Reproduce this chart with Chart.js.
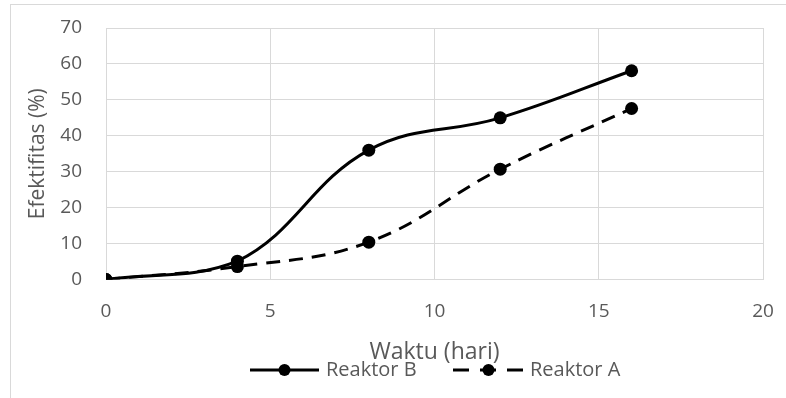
<!DOCTYPE html>
<html>
<head>
<meta charset="utf-8">
<script src="https://cdn.jsdelivr.net/npm/chart.js@4.4.1/dist/chart.umd.min.js"></script>
<style>
html, body { margin: 0; padding: 0; background: #fff; }
#wrap { position: relative; width: 786px; height: 398px; overflow: hidden; }
#frame { position: absolute; left: 10px; top: 4px; width: 800px; height: 420px; border: 1px solid #d9d9d9; }
#chart { position: absolute; left: 0; top: 0; }
</style>
</head>
<body>
<div id="wrap">
  <div id="frame"></div>
  <canvas id="chart" width="786" height="398"></canvas>
</div>
<script>
const timeDays = [0, 4, 8, 12, 16];
const reaktorB = [0, 5.1, 36, 45, 58.1];
const reaktorA = [0, 3.6, 10.4, 30.7, 47.6];
const seriesNames = ['Reaktor B', 'Reaktor A'];

const textColor = '#595959';
const gridColor = '#d9d9d9';
const fontFamily = '"Open Sans", "Liberation Sans", sans-serif';

function toPoints(values) {
    return timeDays.map((x, i) => ({ x: x, y: values[i] }));
}

// legend drawn like Excel: line sample with marker in the middle
const bottomLegend = {
    id: 'bottomLegend',
    afterDraw(chart) {
        const ctx = chart.ctx;
        const y = 370;
        const items = [
            { start: 250, end: 319, dash: [], text: 326 },
            { start: 453, end: 524, dash: [16, 11], text: 530 }
        ];
        ctx.save();
        chart.data.datasets.forEach((ds, i) => {
            const it = items[i];
            ctx.strokeStyle = '#000';
            ctx.lineWidth = 3;
            ctx.setLineDash(it.dash);
            ctx.beginPath();
            ctx.moveTo(it.start, y);
            ctx.lineTo(it.end, y);
            ctx.stroke();
            ctx.setLineDash([]);
            ctx.fillStyle = '#000';
            ctx.beginPath();
            ctx.arc((it.start + it.end) / 2, y, 6, 0, Math.PI * 2);
            ctx.fill();
            ctx.fillStyle = textColor;
            ctx.font = '20px ' + fontFamily;
            ctx.textBaseline = 'middle';
            ctx.fillText(ds.label, it.text, y);
        });
        ctx.restore();
    }
};

new Chart(document.getElementById('chart'), {
    type: 'scatter',
    data: {
        datasets: [
            {
                label: seriesNames[0],
                data: toPoints(reaktorB),
                showLine: true,
                tension: 0.4,
                borderColor: '#000',
                backgroundColor: '#000',
                borderWidth: 3,
                pointRadius: 6.5,
                pointBorderWidth: 0,
                pointBackgroundColor: '#000'
            },
            {
                label: seriesNames[1],
                data: toPoints(reaktorA),
                showLine: true,
                tension: 0.4,
                borderColor: '#000',
                backgroundColor: '#000',
                borderWidth: 3,
                borderDash: [14, 9],
                pointRadius: 6.5,
                pointBorderWidth: 0,
                pointBackgroundColor: '#000'
            }
        ]
    },
    options: {
        responsive: false,
        animation: false,
        layout: { padding: { top: 28, right: 23, left: 0, bottom: 32 } },
        plugins: {
            legend: { display: false },
            tooltip: { enabled: false }
        },
        scales: {
            x: {
                type: 'linear',
                min: 0,
                max: 20,
                ticks: { stepSize: 5, color: textColor, font: { family: fontFamily, size: 19 }, padding: 21 },
                grid: { color: gridColor, lineWidth: 1, drawTicks: false },
                border: { color: gridColor },
                title: { display: true, text: 'Waktu (hari)', color: textColor, font: { family: fontFamily, size: 23 }, padding: 0 },
                afterFit(scale) {
                    scale.height = 86.5;
                    scale.paddingLeft = 0;
                    scale.paddingRight = 0;
                }
            },
            y: {
                min: 0,
                max: 70,
                ticks: { stepSize: 10, color: textColor, font: { family: fontFamily, size: 19 }, padding: 24 },
                grid: { color: gridColor, lineWidth: 1, drawTicks: false },
                border: { color: gridColor },
                title: { display: true, text: 'Efektifitas (%)', color: textColor, font: { family: fontFamily, size: 21 }, padding: { top: 25, bottom: 0 } },
                afterFit(scale) {
                    scale.width = 106;
                    scale.paddingTop = 0;
                    scale.paddingBottom = 0;
                }
            }
        }
    },
    plugins: [bottomLegend]
});
</script>
</body>
</html>
